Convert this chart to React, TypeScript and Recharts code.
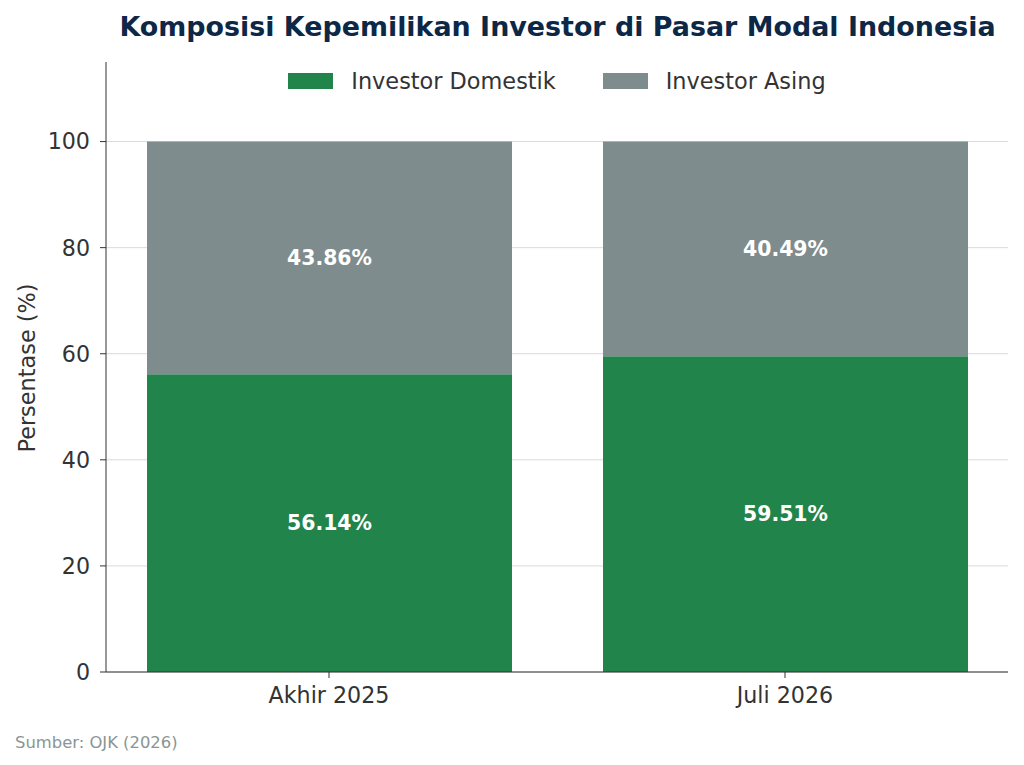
import React from 'react';
import { BarChart, Bar, XAxis, YAxis, CartesianGrid, LabelList } from 'recharts';

const categories = ['Akhir 2025', 'Juli 2026'];
const domestik = [56.14, 59.51];
const asing = [43.86, 40.49];
const yTicks = [0, 20, 40, 60, 80, 100];

const seriesNames = { domestik: 'Investor Domestik', asing: 'Investor Asing' };
const GREEN = '#21844b';
const GREY = '#7f8c8d';
const FONT = "'DejaVu Sans', sans-serif";

const data = categories.map((c, i) => ({ name: c, domestik: domestik[i], asing: asing[i] }));

const fmt = (v: any) => `${Number(v).toFixed(2)}%`;

const legendItems = [
  { label: seriesNames.domestik, color: GREEN },
  { label: seriesNames.asing, color: GREY },
];

export default function App() {
  return (
    <div style={{ position: 'absolute', left: 0, top: 0, width: 1024, height: 765, background: '#fff', fontFamily: FONT }}>
      <BarChart width={1024} height={765} data={data} margin={{ top: 62, right: 16, bottom: 0, left: 0 }}>
        <CartesianGrid vertical={false} horizontalValues={yTicks} stroke="#dadada" strokeWidth={1} />
        <XAxis
          dataKey="name"
          height={93}
          padding={{ left: -5, right: -5 }}
          tickSize={6}
          tickMargin={9}
          stroke="#333333"
          tick={{ fill: '#333333', fontSize: 22.2, fontFamily: FONT }}
        />
        <YAxis
          width={106}
          domain={[0, 115]}
          ticks={yTicks}
          tickSize={6}
          tickMargin={10}
          stroke="#333333"
          tick={{ fill: '#333333', fontSize: 22.2, fontFamily: FONT }}
        />
        <Bar dataKey="domestik" name={seriesNames.domestik} stackId="a" fill={GREEN} barSize={365} isAnimationActive={false}>
          <LabelList dataKey="domestik" position="center" formatter={fmt} fill="#ffffff" fontSize={20.4} fontWeight="bold" fontFamily={FONT} />
        </Bar>
        <Bar dataKey="asing" name={seriesNames.asing} stackId="a" fill={GREY} barSize={365} isAnimationActive={false}>
          <LabelList dataKey="asing" position="center" formatter={fmt} fill="#ffffff" fontSize={20.4} fontWeight="bold" fontFamily={FONT} />
        </Bar>
      </BarChart>
      <div style={{ position: 'absolute', top: 68, left: 106, width: 902, display: 'flex', justifyContent: 'center', alignItems: 'center', fontSize: 22.4, color: '#333' }}>
        {legendItems.map((item, i) => (
          <div key={item.label} style={{ display: 'flex', alignItems: 'center', marginLeft: i === 0 ? 0 : 47 }}>
            <div style={{ width: 45, height: 16, background: item.color, marginRight: 18 }} />
            <span style={{ lineHeight: '26px' }}>{item.label}</span>
          </div>
        ))}
      </div>
      <svg width={1024} height={765} style={{ position: 'absolute', left: 0, top: 0, pointerEvents: 'none' }}>
        <text x={557.5} y={35.5} textAnchor="middle" fontFamily={FONT} fontSize={26.9} fontWeight="bold" fill="#0d2847">
          Komposisi Kepemilikan Investor di Pasar Modal Indonesia
        </text>
        <text transform="translate(35,368) rotate(-90)" textAnchor="middle" fontFamily={FONT} fontSize={22.4} fill="#333333">
          Persentase (%)
        </text>
        <text x={15} y={748} fontFamily={FONT} fontSize={16.4} fill="#8a9595">
          Sumber: OJK (2026)
        </text>
      </svg>
    </div>
  );
}
